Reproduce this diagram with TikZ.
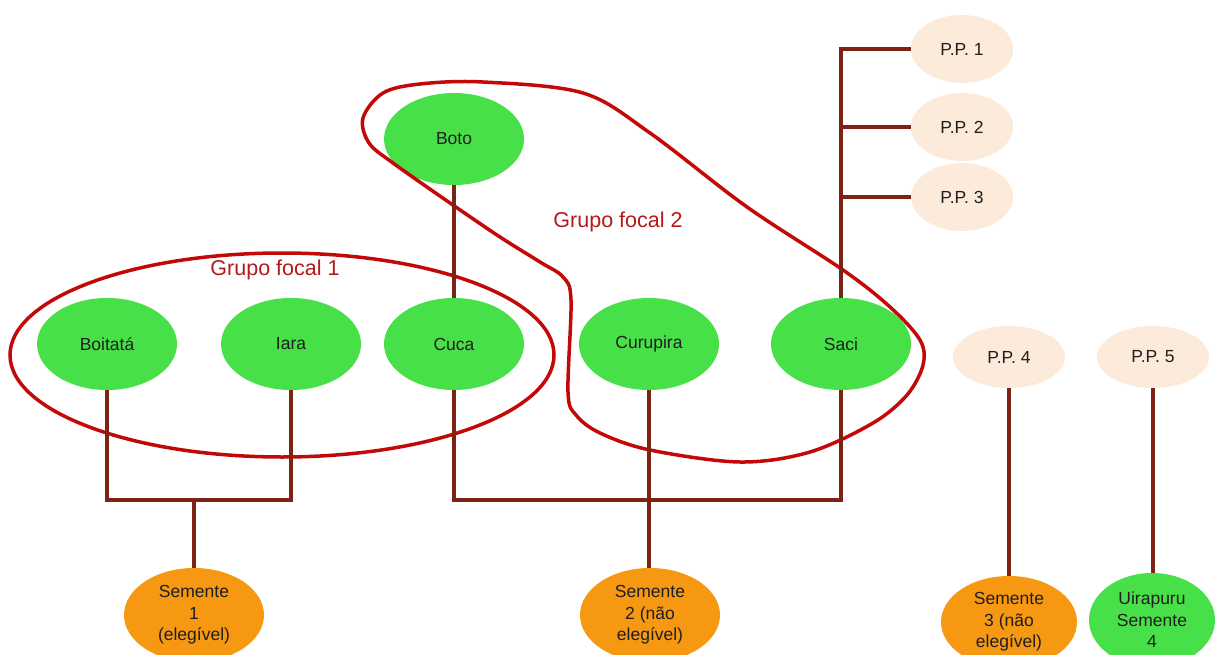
\documentclass[tikz,border=0pt]{standalone}
\usepackage{fontspec}
\setmainfont{Liberation Sans}
\usetikzlibrary{shapes.geometric}
\definecolor{gfill}{RGB}{72,224,72}
\definecolor{ofill}{RGB}{246,152,18}
\definecolor{pfill}{RGB}{252,234,218}
\definecolor{linkc}{RGB}{125,35,20}
\definecolor{groupc}{RGB}{195,8,8}
\definecolor{grouptext}{RGB}{180,25,25}
\begin{document}
\begin{tikzpicture}[x=1pt,y=-1pt,
  every node/.style={font=\fontsize{17.5}{21.5}\selectfont, text=black!88},
  charnode/.style={ellipse, fill=gfill, minimum width=140pt, minimum height=92pt, inner sep=0pt, align=center},
  ppnode/.style={ellipse, fill=pfill, minimum width=102pt, minimum height=68pt, inner sep=0pt},
  ppnodeb/.style={ellipse, fill=pfill, minimum width=112pt, minimum height=62pt, inner sep=0pt},
  seednode/.style={ellipse, fill=ofill, minimum width=140pt, minimum height=94pt, inner sep=0pt, align=center},
  link/.style={draw=linkc, line width=3.5pt},
  group/.style={draw=groupc, line width=3.5pt},
  grouplabel/.style={font=\fontsize{21.5}{25}\selectfont, text=grouptext}]
\useasboundingbox (0,0) rectangle (1215,655);

% character nodes
\node[charnode] (boto) at (454,139) {Boto};
\node[charnode] (boitata) at (107,344) {Boitatá};
\node[charnode] (iara) at (291,344) {Iara};
\node[charnode] (cuca) at (454,344) {Cuca};
\node[charnode] (curupira) at (649,344) {Curupira};
\node[charnode] (saci) at (841,344) {Saci};

% P.P. nodes
\node[ppnode] (pp1) at (962,49) {P.P. 1};
\node[ppnode] (pp2) at (962,127) {P.P. 2};
\node[ppnode] (pp3) at (962,197) {P.P. 3};
\node[ppnodeb] (pp4) at (1009,357) {P.P. 4};
\node[ppnodeb] (pp5) at (1153,357) {P.P. 5};

% seeds
\node[seednode] (s1) at (194,615) {Semente\\1\\(elegível)};
\node[seednode] (s2) at (650,615) {Semente\\2 (não\\elegível)};
\node[seednode, minimum width=136pt, minimum height=92pt] (s3) at (1009,622) {Semente\\3 (não\\elegível)};
\node[charnode, minimum width=126pt, minimum height=94pt] (s4) at (1152,620) {Uirapuru\\Semente\\4};

% focus groups
\node[group, ellipse, minimum width=544pt, minimum height=204pt, inner sep=0pt] (g1) at (282,355) {};
\node[grouplabel] (g1l) at (275,270) {Grupo focal 1};
\draw[group] plot[smooth cycle, tension=0.55] coordinates {
  (483,82) (583,93) (650,133) (747,207) (843,270) (890,307) (920,340) (923,365)
  (907,395) (873,423) (810,452) (740,462) (650,450) (600,433) (576,415) (568,392)
  (571,300) (563,277) (540,262) (500,237) (450,203) (393,163) (369,143) (363,118)
  (383,93) (420,84)};
\node[grouplabel] (g2l) at (618,222) {Grupo focal 2};

% connectors
\coordinate (j1) at (194,500);
\draw[link] (boitata.south) |- (j1) -| (iara.south);
\draw[link] (j1) -- (s1.north);
\draw[link] (boto.south) -- (cuca.north);
\coordinate (j2) at (649,500);
\draw[link] (cuca.south) |- (j2) -| (saci.south);
\draw[link] (curupira.south) -- (curupira.south |- s2.north);
\draw[link] (saci.north) -- (saci.north |- pp1.west) -- (pp1.west);
\draw[link] (saci.north |- pp2.west) -- (pp2.west);
\draw[link] (saci.north |- pp3.west) -- (pp3.west);
\draw[link] (pp4.south) -- (pp4.south |- s3.north);
\draw[link] (pp5.south) -- (pp5.south |- s4.north);
\end{tikzpicture}
\end{document}
